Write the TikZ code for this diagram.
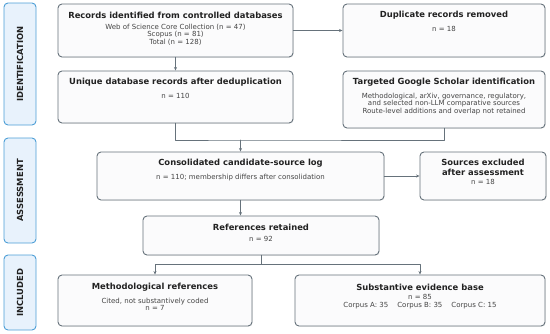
\documentclass[tikz,border=0pt]{standalone}
\usepackage{fontspec}
\setmainfont{DejaVu Sans}
\usetikzlibrary{arrows.meta,shadows}
\definecolor{edgegray}{HTML}{66727B}
\definecolor{boxfill}{HTML}{FBFBFC}
\definecolor{stageblue}{HTML}{4C9ED6}
\definecolor{stagefill}{HTML}{E8F2FC}
\definecolor{titletext}{HTML}{222222}
\definecolor{detailtext}{HTML}{444444}
\newcommand{\titlefont}{\fontsize{8.4}{9.5}\selectfont\bfseries}
\newcommand{\detailfont}{\fontsize{7}{7.9}\selectfont}

\begin{document}
\begin{tikzpicture}[x=1pt, y=-1pt, line cap=round, line join=round, >=Stealth]
\tikzset{flowbox/.style={draw=edgegray, line width=0.9pt, fill=boxfill, rounded corners=4pt,
    drop shadow={opacity=0.12, shadow xshift=0.8pt, shadow yshift=-0.8pt}},
  stagebox/.style={draw=stageblue, line width=0.9pt, fill=stagefill, rounded corners=4pt,
    minimum width=32pt},
  stagelabel/.style={rotate=90, font=\titlefont, text=titletext},
  boxtitle/.style={font=\titlefont, text=titletext, align=center, inner sep=0pt},
  boxdetail/.style={font=\detailfont, text=detailtext, align=center, inner sep=0pt, anchor=north},
  link/.style={draw=edgegray, line width=1pt},
  flow/.style={link, -{Stealth[length=3.5pt,width=3pt]}}}
\useasboundingbox (0,0) rectangle (550,333);

% stages
\node[stagebox, minimum height=122pt] (sId) at (20,64) {};
\node[stagelabel] (lId) at (sId) {IDENTIFICATION};
\node[stagebox, minimum height=105pt] (sAs) at (20,190.5) {};
\node[stagelabel] (lAs) at (sAs) {ASSESSMENT};
\node[stagebox, minimum height=75pt] (sIn) at (20,292.5) {};
\node[stagelabel] (lIn) at (sIn) {INCLUDED};

% boxes (pixel centres)
\node[flowbox, minimum width=235pt, minimum height=53pt] (rec) at (175.5,30.5) {};
\node[flowbox, minimum width=202pt, minimum height=53pt] (dup) at (444,30.5) {};
\node[flowbox, minimum width=235pt, minimum height=52pt] (uniq) at (175.5,97) {};
\node[flowbox, minimum width=202pt, minimum height=57pt] (gs) at (444,99.5) {};
\node[flowbox, minimum width=287pt, minimum height=48pt] (cons) at (240.5,176) {};
\node[flowbox, minimum width=126pt, minimum height=48pt] (excl) at (483,176) {};
\node[flowbox, minimum width=236pt, minimum height=39pt] (ret) at (261,235.5) {};
\node[flowbox, minimum width=194pt, minimum height=51pt] (meth) at (155,300.5) {};
\node[flowbox, minimum width=250pt, minimum height=51pt] (subst) at (420,300.5) {};

% texts
\node[boxtitle] (recT) at (175.5,15) {Records identified from controlled databases};
\node[boxdetail] (recD) at (175.5,23.5) {Web of Science Core Collection (n = 47)\\Scopus (n = 81)\\Total (n = 128)};
\node[boxtitle] (dupT) at (444,15) {Duplicate records removed};
\node[boxdetail] (dupD) at (444,26.5) {n = 18};
\node[boxtitle] (uniqT) at (175.5,82) {Unique database records after deduplication};
\node[boxdetail] (uniqD) at (175.5,93.5) {n = 110};
\node[boxtitle] (gsT) at (444,82) {Targeted Google Scholar identification};
\node[boxdetail] (gsD) at (444,92.5) {Methodological, arXiv, governance, regulatory,\\and selected non-LLM comparative sources\\Route-level additions and overlap not retained};
\node[boxtitle] (consT) at (240.5,163) {Consolidated candidate-source log};
\node[boxdetail] (consD) at (240.5,173.5) {n = 110; membership differs after consolidation};
\node[boxtitle] (exclT) at (483,167.5) {Sources excluded\\after assessment};
\node[boxdetail] (exclD) at (483,179.5) {n = 18};
\node[boxtitle] (retT) at (261,227) {References retained};
\node[boxdetail] (retD) at (261,236) {n = 92};
\node[boxtitle] (methT) at (155,287) {Methodological references};
\node[boxdetail] (methD) at (155,297.5) {Cited, not substantively coded\\n = 7};
\node[boxtitle] (substT) at (420,287) {Substantive evidence base};
\node[boxdetail] (substD) at (420,294.5) {n = 85\\Corpus A: 35\hspace{9pt}Corpus B: 35\hspace{9pt}Corpus C: 15};

% connectors
\coordinate (mrg) at (240.5,140);
\coordinate (spl) at (261,264);
\draw[flow] (rec.east) -- (dup.west);
\draw[flow] (rec.south) -- (uniq.north);
\draw[link] (uniq.south) |- (mrg) -| (gs.south);
\draw[flow] (mrg) -- (cons.north);
\draw[flow] (cons.east) -- (excl.west);
\draw[flow] (cons.south) -- (cons.south |- ret.north);
\draw[link] (ret.south) -- (spl);
\draw[flow] (spl) -| (meth.north);
\draw[flow] (spl) -| (subst.north);
\end{tikzpicture}
\end{document}
